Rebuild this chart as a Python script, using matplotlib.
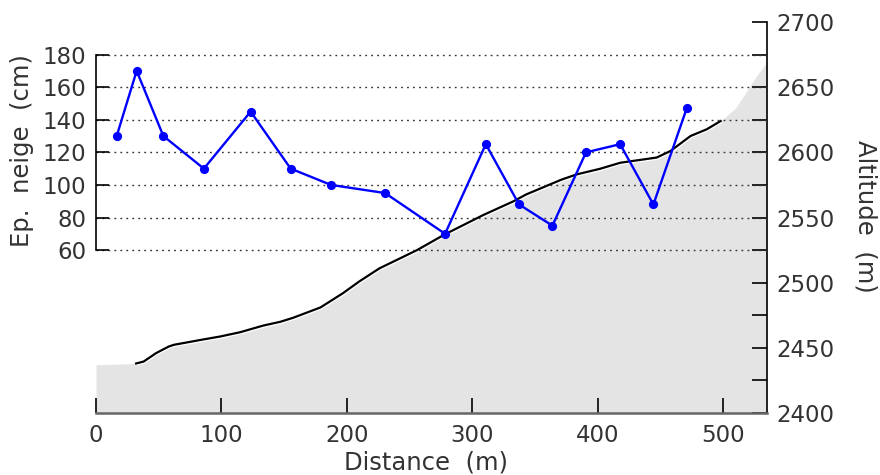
import numpy as np
import matplotlib
matplotlib.use("Agg")
import matplotlib.pyplot as plt

# terrain profile (altitude, m) along the transect
prof_dist = [32, 38, 48, 58, 62, 83, 99, 115, 133, 147, 157, 179, 197, 210, 226,
             256, 278, 309, 333, 343, 371, 383, 402, 418, 447, 458, 474, 487, 498]
prof_alt = [2438, 2439.5, 2446, 2451, 2452.3, 2456, 2458.7, 2462, 2467, 2470, 2473,
            2481, 2492, 2501, 2511, 2525, 2537, 2552, 2562.5, 2567.7, 2579, 2583,
            2587.4, 2592, 2596, 2601, 2612.5, 2617.7, 2624]

# ground outside the surveyed profile (grey area only)
flat_dist = [0]
flat_alt = [2437]
ext_dist = [510, 527, 535]
ext_alt = [2634, 2659, 2669]

# snow depth (cm) at the sounding points
snow_dist = [16.5, 32.4, 53.7, 86, 123.3, 155.2, 187.4, 230.5, 278.3, 310.8,
             337.3, 363.9, 390.7, 417.9, 444.4, 471]
snow_cm = [130, 170, 130, 110, 145, 110, 100, 95, 70, 125, 88, 75, 120, 125, 88, 147]

plt.rcParams["font.family"] = ["DejaVu Sans"]
FS = 16.5
LFS = 17.5
TXT = "#333333"

fig = plt.figure(figsize=(8.8, 4.75), dpi=100)
ax = fig.add_axes([0.1091, 0.1305, 0.7625, 0.8232])
ax2 = ax.twinx()
ax.set_zorder(ax2.get_zorder() + 1)
ax.patch.set_visible(False)

# ground
gd = np.concatenate([flat_dist, prof_dist, ext_dist])
ga = np.concatenate([flat_alt, prof_alt, ext_alt])
ax2.fill_between(gd, ga, 2400, color="#e4e4e4", lw=0)
ax2.plot(prof_dist, prof_alt, color="white", lw=3.5, solid_capstyle="butt")
ax2.plot(prof_dist, prof_alt, color="black", lw=1.6)

# snow depth
ax.plot(snow_dist, snow_cm, color="#0000ff", lw=1.7, marker="o", ms=5.6)

ax.set_xlim(0, 535)
ax.set_ylim(-40, 200)
ax2.set_ylim(2400, 2700)

ax.set_yticks([60, 80, 100, 120, 140, 160, 180])
ax.set_xticks([0, 100, 200, 300, 400, 500])
ax2.set_yticks(np.arange(2400, 2701, 25))
ax2.set_yticklabels([str(v) if v % 50 == 0 else "" for v in range(2400, 2701, 25)])

ax.yaxis.grid(True, linestyle=(0, (1.3, 3.0)), color="#333333", lw=1.0)

for s in ["top", "right"]:
    ax.spines[s].set_visible(False)
for s in ["top", "left", "bottom"]:
    ax2.spines[s].set_visible(False)
ax.spines["left"].set_bounds(60, 180)
ax.spines["left"].set_linewidth(1.2)
ax.spines["bottom"].set_color("#666666")
ax.spines["bottom"].set_linewidth(1.8)
ax2.spines["right"].set_linewidth(1.2)

ax.tick_params(axis="y", direction="in", length=9.5, width=1.2, pad=7,
               labelsize=FS, labelcolor=TXT)
ax.tick_params(axis="x", direction="in", length=11, width=1.2, pad=8,
               labelsize=FS, labelcolor=TXT)
ax2.tick_params(axis="y", direction="in", length=10.5, width=1.2, pad=7,
                labelsize=FS, labelcolor=TXT)

fig.text(0.484, 0.027, "Distance  (m)", fontsize=LFS, color=TXT, ha="center", va="center")
fig.text(0.025, 0.684, "Ep.  neige  (cm)", fontsize=LFS, color=TXT, rotation=90,
         ha="center", va="center")
fig.text(0.984, 0.545, "Altitude  (m)", fontsize=LFS, color=TXT, rotation=-90,
         ha="center", va="center")

fig.savefig("out.png", dpi=100)
